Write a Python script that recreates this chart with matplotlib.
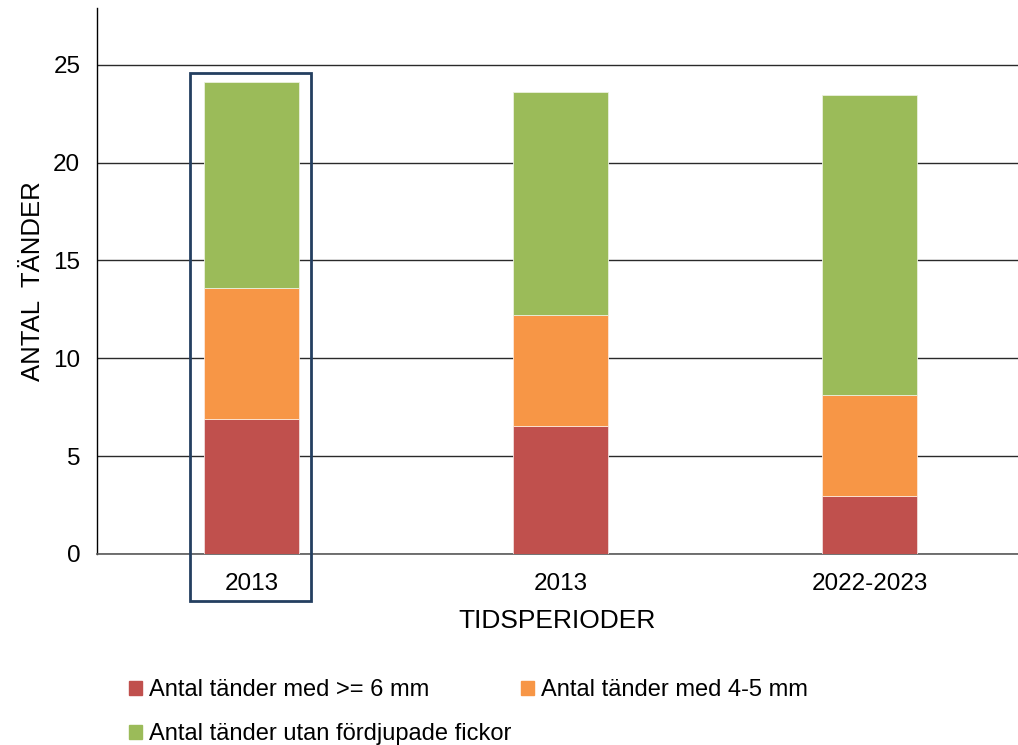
import numpy as np
import matplotlib
matplotlib.use("Agg")
import matplotlib.pyplot as plt
from matplotlib.patches import Rectangle, Patch

plt.rcParams['font.family'] = ['Liberation Sans', 'DejaVu Sans']

categories = ['2013', '2013', '2022-2023']
deep = [6.9, 6.55, 2.95]          # >= 6 mm
mid = [6.7, 5.65, 5.15]           # 4-5 mm
healthy = [10.5, 11.4, 15.35]     # utan fördjupade fickor

labels = ['Antal tänder med >= 6 mm', 'Antal tänder med 4-5 mm',
          'Antal tänder utan fördjupade fickor']
colors = ['#C0504D', '#F79646', '#9BBB59']

fig = plt.figure(figsize=(10.18, 7.45), dpi=100)
ax = fig.add_axes([97 / 1018, 191 / 745, 921 / 1018, 546 / 745])

x = np.arange(len(categories))
w = 0.31
b1 = np.array(deep)
b2 = b1 + np.array(mid)
ax.bar(x, deep, w, color=colors[0], edgecolor='#F2DCDB', linewidth=0.6, zorder=3)
ax.bar(x, mid, w, bottom=b1, color=colors[1], edgecolor='#FDE9D9', linewidth=0.6, zorder=3)
ax.bar(x, healthy, w, bottom=b2, color=colors[2], edgecolor='#EBF1DE', linewidth=0.6, zorder=3)

ax.set_xlim(-0.5, -0.5 + 921 / 309)
ax.set_ylim(0, 27.9)
ax.set_yticks([0, 5, 10, 15, 20, 25])
ax.yaxis.grid(True, color='#2a2a2a', linewidth=1.0, zorder=0)
ax.set_axisbelow(True)
ax.set_xticks(x)
ax.set_xticklabels(categories)
ax.tick_params(axis='both', length=0, labelsize=17.5, colors='black')
ax.tick_params(axis='y', pad=12)
ax.tick_params(axis='x', pad=14)
for s in ['top', 'right']:
    ax.spines[s].set_visible(False)
ax.spines['left'].set_color('black')
ax.spines['left'].set_linewidth(1.0)
ax.spines['bottom'].set_color('#5a5a5a')
ax.spines['bottom'].set_linewidth(1.2)

ax.set_ylabel('ANTAL  TÄNDER', fontsize=18.5, labelpad=6)
ax.set_xlabel('TIDSPERIODER', fontsize=19, labelpad=10)

# frame around the first bar
fig.patches.append(Rectangle((190 / 1018, (745 - 601) / 745), 121 / 1018, 528 / 745,
                             transform=fig.transFigure, fill=False,
                             edgecolor='#243F60', linewidth=2))

handles = [Patch(color=c) for c in colors]
order = [0, 2, 1]
fig.legend([handles[i] for i in order], [labels[i] for i in order],
           ncol=2, loc='upper left', bbox_to_anchor=(129 / 1018, 1 - 679 / 745),
           frameon=False, fontsize=17, handlelength=0.55, handleheight=0.55,
           handletextpad=0.3, columnspacing=0.4, labelspacing=0.95, borderpad=0,
           borderaxespad=0)

fig.savefig('out.png', dpi=100)
